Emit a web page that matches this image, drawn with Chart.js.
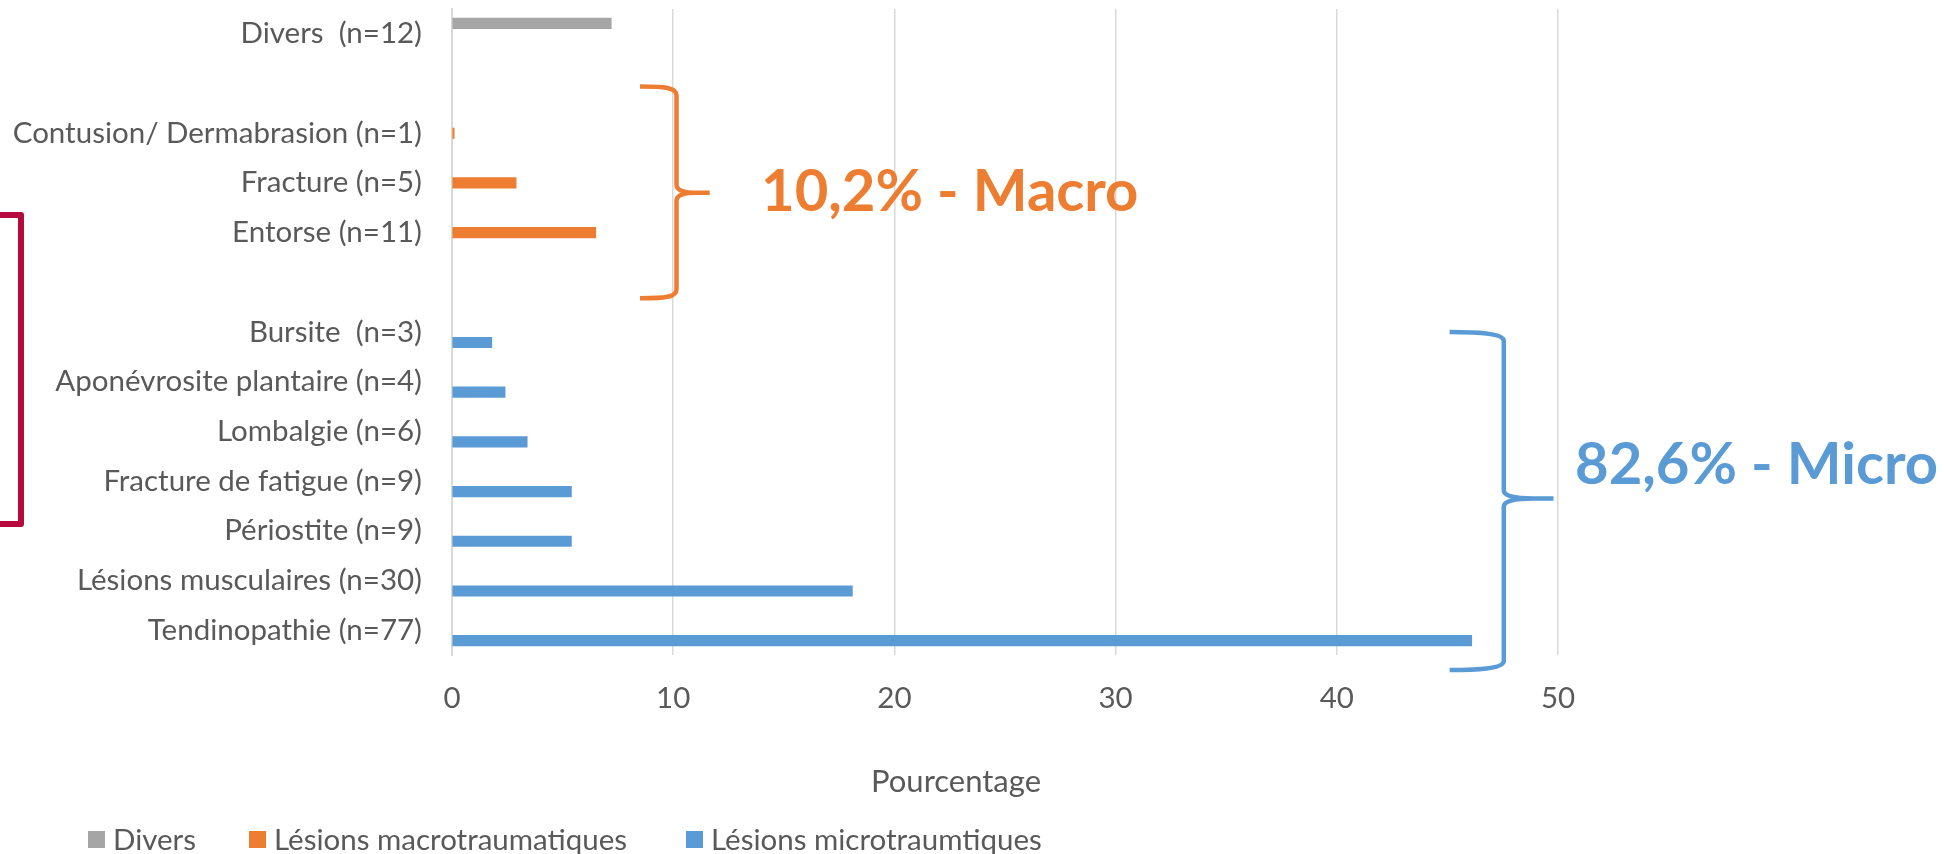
<!DOCTYPE html>
<html>
<head>
<meta charset="utf-8">
<script src="https://cdn.jsdelivr.net/npm/chart.js@4/dist/chart.umd.min.js"></script>
<style>
    html, body { margin: 0; padding: 0; background: #fff; }
    #wrap { width: 1944px; height: 854px; position: relative; }
</style>
</head>
<body>
<div id="wrap"><canvas id="lesionChart"></canvas></div>
<script>
// Categories, top to bottom (blank rows separate the groups)
const categories = [
    'Divers  (n=12)',
    ' ',
    'Contusion/ Dermabrasion (n=1)',
    'Fracture (n=5)',
    'Entorse (n=11)',
    '  ',
    'Bursite  (n=3)',
    'Aponévrosite plantaire (n=4)',
    'Lombalgie (n=6)',
    'Fracture de fatigue (n=9)',
    'Périostite (n=9)',
    'Lésions musculaires (n=30)',
    'Tendinopathie (n=77)'
];

// Percentages
const diversValues = [7.2, null, null, null, null, null, null, null, null, null, null, null, null];
const macroValues = [null, null, 0.1, 2.9, 6.5, null, null, null, null, null, null, null, null];
const microValues = [null, null, null, null, null, null, 1.8, 2.4, 3.4, 5.4, 5.4, 18.1, 46.1];

const seriesNames = ['Divers', 'Lésions macrotraumatiques', 'Lésions microtraumtiques'];
const xTicks = [0, 10, 20, 30, 40, 50];

const GRAY = '#A5A5A5';
const ORANGE = '#ED7D31';
const BLUE = '#5B9BD5';
const TEXT = '#595959';
const FONT = 'Lato, "Noto Sans", sans-serif';

// Braces, group labels, legend and axis title
const overlayPlugin = {
    id: 'overlay',
    afterDraw(chart) {
        const ctx = chart.ctx;
        const x = chart.scales.x;
        const y = chart.scales.y;

        const drawBrace = (color, xStart, xLine, xTip, top, mid, bottom) => {
            ctx.save();
            ctx.strokeStyle = color;
            ctx.lineWidth = 4.5;
            ctx.lineCap = 'butt';
            ctx.beginPath();
            ctx.moveTo(xStart, top);
            ctx.bezierCurveTo(xStart + 25, top, xLine, top + 1, xLine, top + 9);
            ctx.lineTo(xLine, mid - 8);
            ctx.quadraticCurveTo(xLine, mid, xTip - (xTip - xLine) * 0.4, mid);
            ctx.lineTo(xTip, mid);
            ctx.moveTo(xTip - (xTip - xLine) * 0.4, mid);
            ctx.quadraticCurveTo(xLine, mid, xLine, mid + 8);
            ctx.lineTo(xLine, bottom - 9);
            ctx.bezierCurveTo(xLine, bottom - 1, xStart + 25, bottom, xStart, bottom);
            ctx.stroke();
            ctx.restore();
        };

        const half = (y.getPixelForValue(1) - y.getPixelForValue(0)) / 2;

        // orange brace around the macro lesions
        drawBrace(ORANGE, x.getPixelForValue(8.5), x.getPixelForValue(10.15), x.getPixelForValue(11.65),
            y.getPixelForValue(1) + 3, y.getPixelForValue(3.2), y.getPixelForValue(5) + 16);
        // blue brace around the micro lesions
        drawBrace(BLUE, x.getPixelForValue(45.1), x.getPixelForValue(47.55), x.getPixelForValue(49.8),
            y.getPixelForValue(6), y.getPixelForValue(9.35), y.getPixelForValue(12) + half + 15);

        ctx.save();
        ctx.font = 'bold 58px ' + FONT;
        ctx.textBaseline = 'middle';
        ctx.fillStyle = ORANGE;
        ctx.fillText('10,2% - Macro', 761, 192);
        ctx.fillStyle = BLUE;
        ctx.fillText('82,6% - Micro', 1575, 465);

        // red bracket at the left edge
        ctx.strokeStyle = '#B60A3E';
        ctx.lineWidth = 6;
        ctx.lineJoin = 'round';
        ctx.beginPath();
        ctx.moveTo(0, 215);
        ctx.lineTo(21, 215);
        ctx.lineTo(21, 524);
        ctx.lineTo(0, 524);
        ctx.stroke();

        // axis title
        ctx.font = '31px ' + FONT;
        ctx.fillStyle = TEXT;
        ctx.textAlign = 'center';
        ctx.fillText('Pourcentage', 956, 782);

        // legend
        ctx.font = '29.5px ' + FONT;
        ctx.textAlign = 'left';
        const legendX = [88, 249, 686];
        chart.data.datasets.forEach((ds, i) => {
            ctx.fillStyle = ds.backgroundColor;
            ctx.fillRect(legendX[i], 831, 17, 17);
            ctx.fillStyle = TEXT;
            ctx.fillText(ds.label, legendX[i] + 25, 840);
        });
        ctx.restore();
    }
};

const ctx = document.getElementById('lesionChart').getContext('2d');
new Chart(ctx, {
    type: 'bar',
    data: {
        labels: categories,
        datasets: [
            { label: seriesNames[0], data: diversValues, backgroundColor: GRAY },
            { label: seriesNames[1], data: macroValues, backgroundColor: ORANGE },
            { label: seriesNames[2], data: microValues, backgroundColor: BLUE }
        ]
    },
    options: {
        indexAxis: 'y',
        responsive: true,
        maintainAspectRatio: false,
        animation: false,
        barThickness: 10.5,
        layout: { padding: { top: 9, right: 386, left: 0, bottom: 0 } },
        plugins: {
            legend: { display: false },
            tooltip: { enabled: false }
        },
        scales: {
            x: {
                min: 0,
                max: 50,
                afterBuildTicks: (scale) => { scale.ticks = xTicks.map(v => ({ value: v })); },
                afterFit: (scale) => { scale.height = 199; },
                grid: { color: '#D9D9D9', lineWidth: 1.5, drawTicks: false },
                border: { display: false },
                ticks: { color: TEXT, font: { family: FONT, size: 29.5 }, padding: 26 }
            },
            y: {
                afterFit: (scale) => {
                    scale.width = 452;
                    scale.paddingTop = 0;
                    scale.paddingBottom = 0;
                },
                grid: { display: false, drawTicks: false },
                border: { display: true, color: '#D9D9D9', width: 2 },
                ticks: { color: TEXT, font: { family: FONT, size: 29.5 }, padding: 30, autoSkip: false }
            }
        }
    },
    plugins: [overlayPlugin]
});
</script>
</body>
</html>
